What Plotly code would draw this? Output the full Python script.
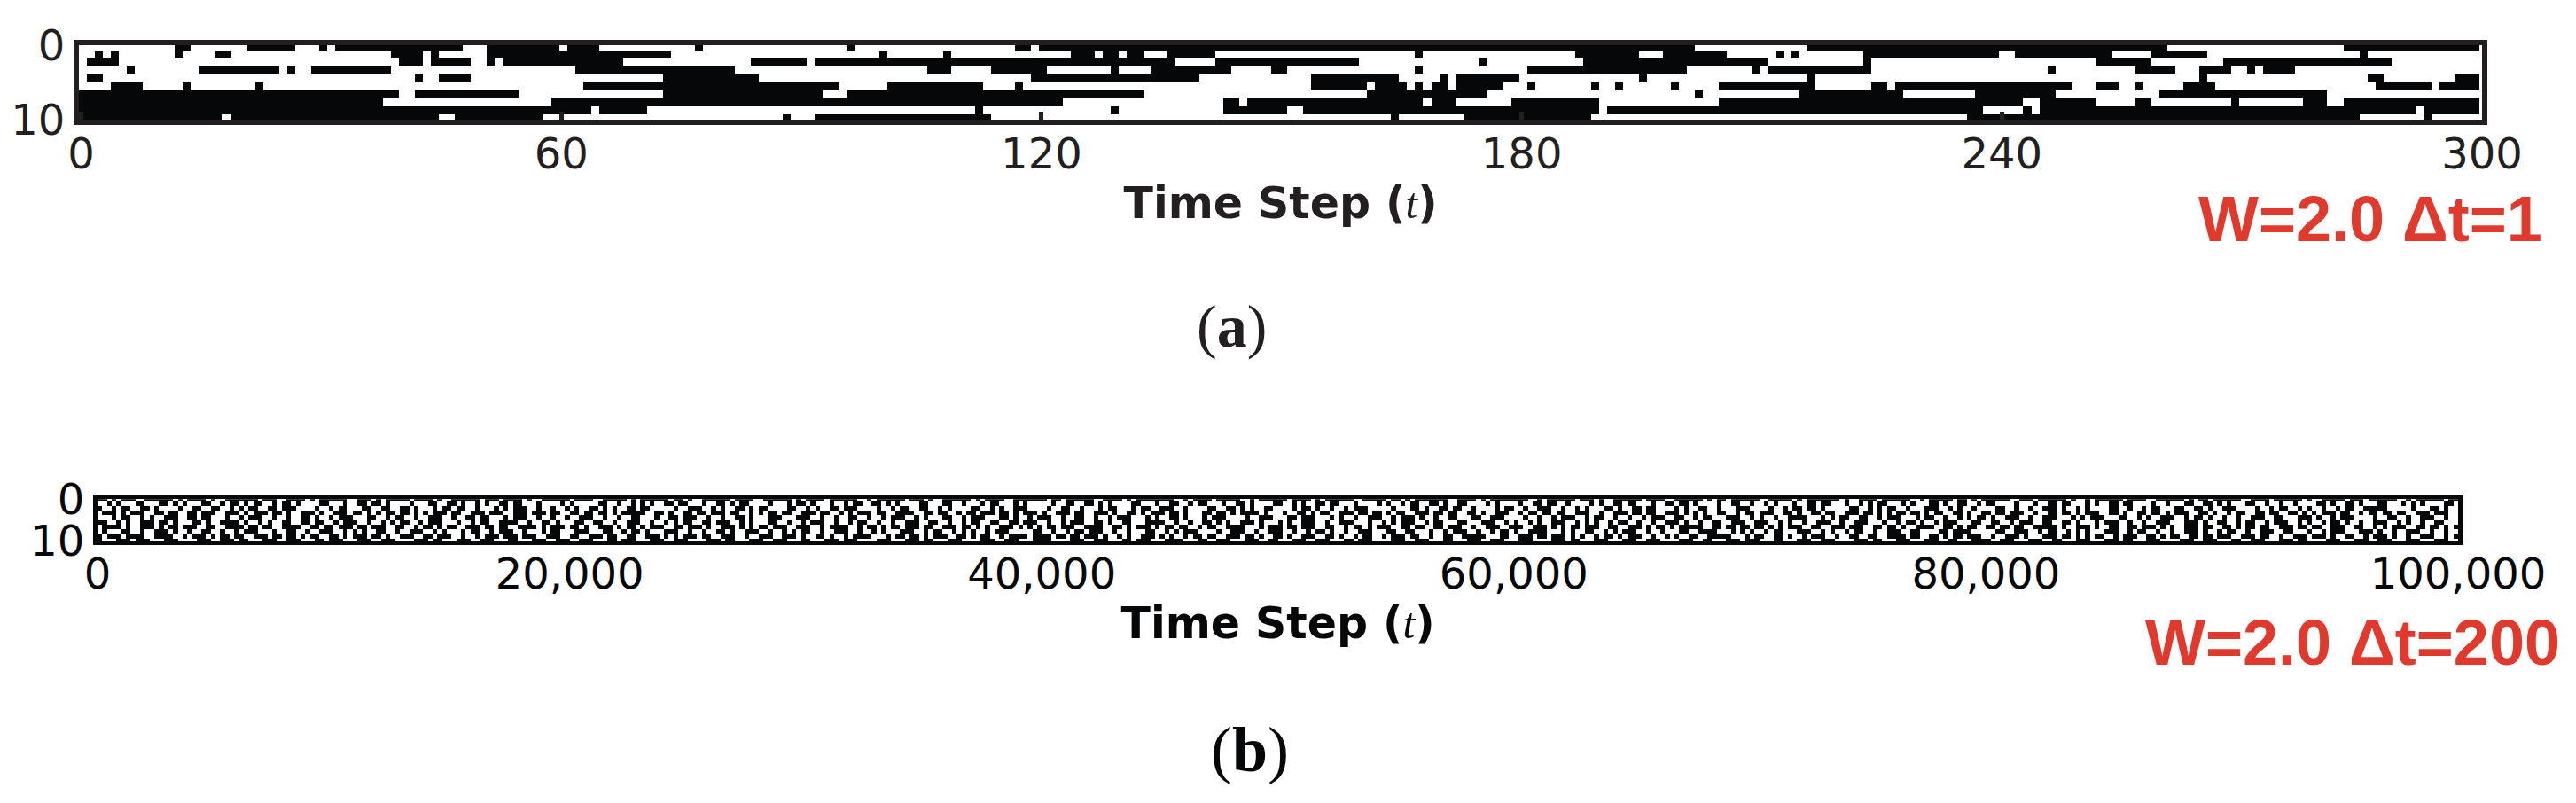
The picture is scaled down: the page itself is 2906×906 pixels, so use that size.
import numpy as np
import plotly.graph_objects as go

# panel (a): black runs per row, (first column, column after the last)
runs_a_row0 = [(12,14),(21,27),(30,31),(32,48),(51,60),(61,65),(77,78),(96,97),(117,119),(120,202),(216,261),(283,300)]
runs_a_row1 = [(2,3),(4,5),(12,13),(17,19),(39,43),(44,45),(51,74),(100,101),(108,109),(124,127),(128,130),(131,133),(136,142),(167,168),(187,195),(198,206),(212,213),(214,215),(223,240),(242,254),(259,266),(285,286)]
runs_a_row2 = [(1,5),(40,43),(44,49),(51,52),(53,68),(84,91),(92,137),(142,160),(175,176),(188,211),(223,224),(252,259),(268,289)]
runs_a_row3 = [(6,7),(15,25),(26,27),(29,39),(62,82),(106,109),(114,121),(129,130),(134,144),(149,151),(167,168),(181,201),(209,210),(211,224),(246,247),(257,262),(265,269),(271,272),(273,277)]
runs_a_row4 = [(1,3),(42,43),(45,49),(73,85),(119,140),(154,165),(170,171),(172,180),(195,196),(216,217),(265,266),(286,288),(297,300)]
runs_a_row5 = [(4,8),(13,14),(22,23),(63,95),(101,113),(117,118),(154,161),(162,166),(167,168),(169,171),(172,178),(181,182),(189,190),(192,193),(199,200),(205,217),(224,226),(227,249),(252,255),(257,258),(263,267),(287,294),(295,300)]
runs_a_row6 = [(0,40),(42,55),(73,93),(96,133),(161,176),(202,203),(215,228),(237,247),(260,281)]
runs_a_row7 = [(0,38),(59,123),(143,145),(146,168),(169,172),(179,190),(205,243),(245,252),(257,259),(269,270),(278,281),(283,300)]
runs_a_row8 = [(0,64),(65,71),(112,113),(129,130),(143,151),(153,190),(191,238),(243,244),(245,292),(293,300)]
runs_a_row9 = [(0,18),(19,45),(47,58),(88,89),(92,114),(164,165),(173,189),(236,285),(293,294)]

# panel (b): 1 = black. 500 steps per row, estimated by eye from the crops, cells are too small to be exact
cells_b_row0 = ("1101011100111111010111101001111111011100111101011111100111010111110111101001111110111011110100111111"
                "0111100111110101111110110100111111011110011111101011110111111001011111101110100111111010111100111111"
                "1011011111100111101011111111001011110111110010111111011110101111110011111011010111111100111101011111"
                "1110010111111011101001111110111100111111010110111111001111101011111110100111101111110010111110110101"
                "1111100111011111101001011111101111001111110101101111110011110111111010011111011101111110010111111011")
cells_b_row1 = ("0010100011000110101000110010110101100101101000011000100110110100001000110011010010100110110001000010"
                "1000001100100101010011011000100110101100001000101101000100101100110101000011000110010001011000101000"
                "0010011001101010000110001001100101100010011010000110010100110110001000010100101100110100110000101000"
                "0100110110010000101001101100010011011010000100110010010100010011011000100101011000101000110100110010"
                "1100001000100110110001010011011000010010001100110101000110010010010000110100110100011000101010000110")
cells_b_row2 = ("1001011001101000010011001100101011001101110000100101100011001100110100010110110010001010111001001001"
                "0100110101001101100000100111001010011010110000110010100110111000010010110011001010000110010100111000"
                "0100110010001011000101100111001000011001101010011000010110100100101110000010001101001101100100001011"
                "0010011100100101000110100110110000101001100100011100001001011011010000011001010110010001110010100100"
                "0011001001001110100101000011001001011000110011010011100001001011001010010010110011111000001000110100")
cells_b_row3 = ("0111010111001101100110111001110101110110100111010011101101010110110101011101100111011100111011101100"
                "1101101101011111001101001101101110110010101101100111011001010111011001111001101100101101110110101110"
                "1001110110011101001101011101101000110110101111010001001101011001110110110101100111011011001101001110"
                "0101101101100111001001110110110011101010100110010110111001101001101100111011010101101101011001101001"
                "1011011100100110110101110011010011011010111001101001011001101100110101011101100101101101100111011100")
cells_b_row4 = ("0001011001010011100110110001001011100100100110100101110001100101100100111001001101100010111001001001"
                "0011100100100110001001101110010010011010001110001110010010011001001011100101000110010111000110100101"
                "1100100110010010111000101001101000101110000100111000110111000101001001110010111010010011000110011100"
                "0010010010111001011001001001011100110010110001110010100100111100010101100110010111000101100100101011"
                "0100111001001110001010111000110010100111001011010010010011100110001110100101110000100110010011100100")
cells_b_row5 = ("1100101001110110100011010011110100101001100110110010111001001010110010111000100101100111100100110100"
                "0110011001001110010010101100110111001010001100100101110010010110010010011100110010010110011001101110"
                "0100101110011010011000111100100100110101001110100010100111001001110001001010111001011000110001110010"
                "1001010011100101010010110010010011101001001100111001110010100100111001001110001001011010010111000110"
                "0110010111001100110100010111001001001110001110100110010110010111001010010110100100111001010010011000")
cells_b_row6 = ("0111101001110101101110011001111011011001111001101101110110111001100101101011001110110110011110101110"
                "1101001110101101011100110111010011101010110111001110010111100101101011011101100111011010100111010101"
                "0110111001111001101011101011011001011001111000101110110111001100101101011100110110011011100100111001"
                "1100111010101101110011001110101101011111001101101101101010111001100111011100110110100111100110101100"
                "1101101100111110100111010011001101110101001110110011010110110011101101100111001100101011100110110101")
cells_b_row7 = ("0100011001001110100100110010010111000100110010011100101010011001001110010100010110010111001000101100"
                "0111000110010110100011100100100110100111001001010110010011100100101000111001011001010100101110000011"
                "0010010110111001001000110010101110000100111001001110010010110100100111000110011000100101110010010110"
                "1001111000101001100101011100100100011001111000101010010110001110010100101100100111001100001101111000"
                "0011001110010110010101000111001011001001001110100101100100111001100010010111000111010010011100100100")
cells_b_row8 = ("1011101111001111001011101011011001110110110101100110101110110100111001101110010010111011101110011100"
                "1100111011001100111010101110110011100100111001110100110100101111000101101101011100110101100101111011"
                "1101101101110100101001110101001011011001110110100110100111001101001011001011101100100110011111000110"
                "0111011011101010010110101110010010100110011111000101100110100101110010011001100111101100110101101110"
                "0100111010001110110101011001011100110101100110110111001110110010011101110100110010111010010011100101")
cells_b_row9 = ("1000111011100011100001110011101100011100111000110111000111001110000111011000111001110001100011100111"
                "0011100011011100011100111000011101100011100111000110001110111000011100011101100011100001110011100011"
                "1100001110011100011011100011110001100111000111001100011100111000110111000011100111000110001110011100"
                "0111000011101100011100011100111000011100110001110111000110001110011100001110110001110001110011000111"
                "1001110001110011000111000111011000111000011100111000110011100011101100001110001110011100011100011100")

tick_a = [0, 60, 120, 180, 240, 300]
tick_b = [0, 20000, 40000, 60000, 80000, 100000]
row_ticks = [0, 10]
label_a = "W=2.0 Δt=1"
label_b = "W=2.0 Δt=200"
axis_title = "<b>Time Step (</b><span style=\"font-family:'Liberation Serif';font-style:italic\">t</span><b>)</b>"

W, H = 2906, 906
PAGE_OFFSET = 8  # the page body puts the figure 8 px in
BLACK = '#060709'
FRAME = '#231f20'
RED = '#e03a2e'


def fx(px):
    return (px - PAGE_OFFSET) / W


def fy(py):
    return 1 - (py - PAGE_OFFSET) / H


rows_a = [runs_a_row0, runs_a_row1, runs_a_row2, runs_a_row3, runs_a_row4,
          runs_a_row5, runs_a_row6, runs_a_row7, runs_a_row8, runs_a_row9]
z_a = np.zeros((10, 300))
for i, runs in enumerate(rows_a):
    for start, end in runs:
        z_a[i, start:end] = 1

rows_b = [cells_b_row0, cells_b_row1, cells_b_row2, cells_b_row3, cells_b_row4,
          cells_b_row5, cells_b_row6, cells_b_row7, cells_b_row8, cells_b_row9]
z_b = np.array([[int(c) for c in r.ljust(500, '1')[:500]] for r in rows_b])

scale = [[0, 'white'], [1, BLACK]]

fig = go.Figure()
fig.add_trace(go.Heatmap(z=z_a, x0=0.22, dx=1, y0=0.18, dy=1.0714, zmin=0, zmax=1,
                         colorscale=scale, showscale=False, hoverinfo='skip', xaxis='x', yaxis='y'))
fig.add_trace(go.Heatmap(z=z_b, x0=100, dx=200, y0=-0.115, dy=1.135, zmin=0, zmax=1,
                         colorscale=scale, showscale=False, hoverinfo='skip', xaxis='x2', yaxis='y2'))


def font(color, size=48):
    return dict(family='DejaVu Sans', size=size, color=color)


fig.update_layout(
    width=W, height=H,
    margin=dict(l=0, r=0, t=0, b=0),
    paper_bgcolor='white',
    plot_bgcolor='white',
    showlegend=False,
    xaxis=dict(domain=[fx(89), fx(2800)], range=[-0.28, 300], anchor='y', tickvals=tick_a, ticktext=[str(t) for t in tick_a],
               ticks='inside', ticklen=9, tickwidth=5, tickcolor=FRAME, tickfont=font(FRAME), showgrid=False, zeroline=False,
               showline=True, mirror=True, linewidth=6, linecolor=FRAME, automargin=False, ticklabelstandoff=-9,
               title=dict(text=axis_title, font=font(FRAME, 49), standoff=14)),
    yaxis=dict(domain=[fy(135), fy(51)], range=[10, 0], anchor='x', tickvals=row_ticks, ticktext=[str(t) for t in row_ticks],
               ticks='', tickfont=font(FRAME), showgrid=False, zeroline=False, automargin=False,
               showline=True, mirror=True, linewidth=6, linecolor=FRAME),
    xaxis2=dict(domain=[fx(110), fx(2773)], range=[0, 100000], anchor='y2', tickvals=tick_b, ticktext=[f'{t:,}' for t in tick_b],
                ticks='', tickfont=font(BLACK), showgrid=False, zeroline=False, automargin=False, ticklabelstandoff=-9,
                showline=True, mirror=True, linewidth=5, linecolor=BLACK,
                title=dict(text=axis_title, font=font(BLACK, 49), standoff=14)),
    yaxis2=dict(domain=[fy(610), fy(563.3)], range=[10, 0], anchor='x2', tickvals=row_ticks, ticktext=[str(t) for t in row_ticks],
                ticks='', tickfont=font(BLACK), showgrid=False, zeroline=False, automargin=False,
                showline=True, mirror=True, linewidth=5, linecolor=BLACK),
)

fig.add_annotation(text=label_a, xref='paper', yref='paper', x=fx(2478), y=fy(247), xanchor='left', yanchor='middle',
                   showarrow=False, font=dict(family='Liberation Sans', size=72, color=RED, weight='bold'))
fig.add_annotation(text=label_b, xref='paper', yref='paper', x=fx(2418), y=fy(725), xanchor='left', yanchor='middle',
                   showarrow=False, font=dict(family='Liberation Sans', size=72, color=RED, weight='bold'))
fig.add_annotation(text='(<b>a</b>)', xref='paper', yref='paper', x=fx(1389), y=fy(368), xanchor='center', yanchor='middle',
                   showarrow=False, font=dict(family='Liberation Serif', size=68, color=FRAME))
fig.add_annotation(text='(<b>b</b>)', xref='paper', yref='paper', x=fx(1410), y=fy(846), xanchor='center', yanchor='middle',
                   showarrow=False, font=dict(family='Liberation Serif', size=72, color=BLACK))

fig.write_html("out.html")
